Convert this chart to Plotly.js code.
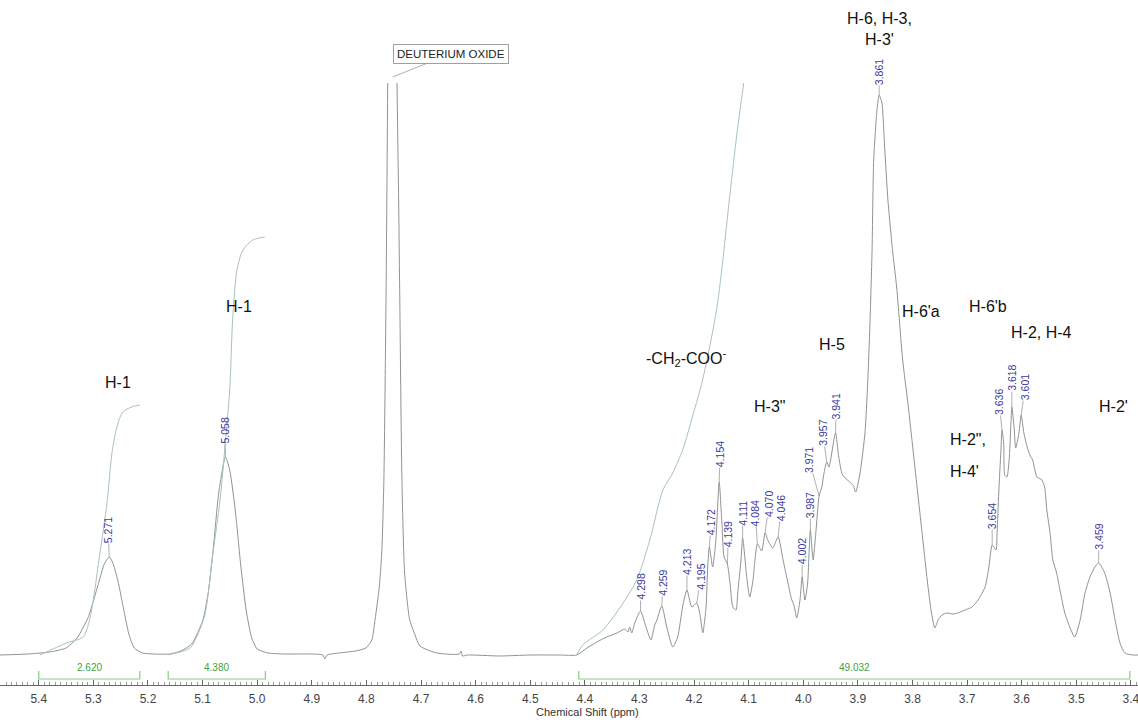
<!DOCTYPE html>
<html>
<head>
<meta charset="utf-8">
<script src="https://cdn.plot.ly/plotly-3.0.1.min.js"></script>
<style>html,body{margin:0;padding:0;background:#fff;}#chart{width:1138px;height:722px;}</style>
</head>
<body>
<div id="chart"></div>
<script>
// ---------- DATA ----------
// 1H NMR spectrum: chemical shift (ppm) and intensity (arbitrary units)
const ppm = [
  5.471, 5.42, 5.38, 5.35, 5.33, 5.31, 5.30, 5.29, 5.28, 5.271, 5.265, 5.255, 5.245, 5.235, 5.225, 5.21, 5.19,
  5.16, 5.14, 5.12, 5.10, 5.09, 5.08, 5.07, 5.058, 5.05, 5.04, 5.03, 5.02, 5.01, 5.00, 4.98, 4.95, 4.90,
  4.88, 4.876, 4.872, 4.85, 4.82, 4.801, 4.790, 4.785, 4.777, 4.772, 4.768, 4.764, 4.761, 4.752, 4.744,
  4.741, 4.739, 4.735, 4.730, 4.721, 4.711, 4.702, 4.671, 4.630, 4.627, 4.624, 4.615, 4.556, 4.50, 4.446,
  4.415, 4.396, 4.378, 4.360, 4.341, 4.327, 4.321, 4.318, 4.314, 4.308, 4.298, 4.288, 4.279, 4.272, 4.268,
  4.259, 4.250, 4.239, 4.230, 4.221, 4.213, 4.204, 4.195, 4.189, 4.184, 4.178, 4.175, 4.172, 4.166, 4.160,
  4.154, 4.149, 4.145, 4.139, 4.134, 4.129, 4.123, 4.120, 4.114, 4.111, 4.103, 4.098, 4.092, 4.089, 4.084,
  4.076, 4.070, 4.065, 4.056, 4.046, 4.037, 4.028, 4.021, 4.017, 4.012, 4.006, 4.002, 3.997, 3.992, 3.987,
  3.982, 3.977, 3.971, 3.966, 3.962, 3.957, 3.953, 3.941, 3.935, 3.928, 3.915, 3.909, 3.904, 3.896, 3.887,
  3.882, 3.878, 3.874, 3.871, 3.865, 3.861, 3.856, 3.851, 3.845, 3.836, 3.829, 3.823, 3.818, 3.808, 3.799,
  3.790, 3.781, 3.773, 3.766, 3.759, 3.753, 3.746, 3.737, 3.726, 3.717, 3.704, 3.691, 3.680, 3.667, 3.660,
  3.654, 3.647, 3.645, 3.642, 3.638, 3.636, 3.633, 3.631, 3.627, 3.623, 3.620, 3.618, 3.614, 3.611, 3.605,
  3.601, 3.596, 3.590, 3.585, 3.580, 3.572, 3.563, 3.558, 3.554, 3.548, 3.543, 3.536, 3.530, 3.521, 3.512,
  3.503, 3.493, 3.484, 3.475, 3.466, 3.459, 3.448, 3.438, 3.429, 3.420, 3.411, 3.396, 3.387
];
const intensity = [
  1, 2, 4, 8, 18, 38, 55, 74, 92, 99, 94, 75, 48, 22, 8, 3, 2,
  2, 5, 12, 35, 62, 110, 165, 199, 185, 145, 90, 45, 18, 7, 3, 2, 2,
  1, -3, 1, 3, 5, 8, 16, 33, 66, 102, 176, 363, 573, null, 573,
  456, 363, 178, 83, 37, 21, 10, 3, 2, 5, 0, 1, 0, 1, 1,
  1, 8, 14, 19, 23, 27, 24, 29, 23, 34, 45, 29, 16, 31, 36,
  50, 29, 9, 19, 49, 66, 49, 53, 41, 23, 49, 89, 109, 89, 116,
  174, 133, 99, 92, 72, 49, 46, 63, 96, 118, 76, 59, 76, 93, 112,
  105, 123, 116, 108, 119, 96, 73, 56, 51, 38, 56, 79, 56, 73, 126,
  96, 123, 160, 169, 183, 194, 189, 223, 199, 181, 174, 171, 164, 183, 223,
  273, 330, 406, 496, 546, 561, 553, 509, 456, 403, 369, 329, 296, 251, 206,
  161, 116, 76, 46, 28, 36, 41, 43, 42, 43, 46, 49, 56, 69, 89,
  111, 106, 123, 163, 206, 226, 213, 181, 179, 196, 229, 249, 229, 208, 223,
  241, 223, 209, 201, 196, 179, 176, 169, 146, 123, 96, 83, 66, 43, 29,
  19, 36, 63, 79, 89, 93, 83, 63, 36, 13, 3, 1, 1
];

// Integral curves (running integral, same intensity units)
const integral1Ppm = [5.398, 5.349, 5.319, 5.307, 5.288, 5.275, 5.266, 5.257, 5.246, 5.230, 5.215];
const integral1Val = [1, 13, 19, 36, 103, 153, 203, 229, 244, 249, 251];
const integral2Ppm = [5.164, 5.123, 5.111, 5.096, 5.081, 5.068, 5.058, 5.050, 5.045, 5.037, 5.026, 5.008, 4.986];
const integral2Val = [1, 8, 19, 41, 103, 156, 216, 269, 336, 386, 406, 416, 419];
const integral3Ppm = [4.415, 4.404, 4.367, 4.330, 4.305, 4.281, 4.257, 4.239, 4.221, 4.202, 4.184, 4.158, 4.134, 4.122, 4.109];
const integral3Val = [1, 11, 26, 53, 76, 116, 166, 183, 206, 241, 277, 349, 463, 520, 573];

// Integration ranges and their values
const integralStart = [5.400, 5.163, 4.411];
const integralEnd   = [5.215, 4.985, 3.402];
const integralLabel = ['2.620', '4.380', '49.032'];

// Picked peaks
const peakPpm = [5.271, 5.058, 4.298, 4.259, 4.213, 4.195, 4.172, 4.154, 4.139, 4.111, 4.084, 4.070, 4.046,
                 4.002, 3.987, 3.971, 3.957, 3.941, 3.861, 3.654, 3.636, 3.618, 3.601, 3.459];

// Assignment labels
const assignText = ['H-1', 'H-1', '-CH<sub>2</sub>-COO<sup>-</sup>', 'H-3"', 'H-5', 'H-6, H-3,<br>H-3\'',
                    'H-6\'a', 'H-6\'b', 'H-2, H-4', 'H-2",', 'H-4\'', 'H-2\''];
const solventText = 'DEUTERIUM OXIDE';
const solventPpm = 4.752;

// Axis ticks
const tickVals = [5.4, 5.3, 5.2, 5.1, 5.0, 4.9, 4.8, 4.7, 4.6, 4.5, 4.4, 4.3, 4.2, 4.1, 4.0, 3.9, 3.8, 3.7, 3.6, 3.5, 3.4];
const tickText = tickVals.map(v => v.toFixed(1));
const xTitle = 'Chemical Shift (ppm)';

// ---------- LAYOUT / STYLE ----------
const FONT = 'Liberation Sans, Arial, Helvetica, sans-serif';
const SPEC_COLOR = '#929292';
const INT_COLOR = '#a7c3ba';
const GREEN = '#86cc86';
const GREEN_TXT = '#3f9f3f';
const PEAK_TXT = '#3a3a9c';

// pixel offsets of peak labels relative to their peak top [ax, ay]
const peakLabelOffset = [
  [-1,-27],[-1,-26],[0,-24],[1,-23],[0,-28],[4,-26],[2,-25],[1,-28],[1,-30],[0,-25],[-2,-31],[4,-29],[3,-29],
  [0,-26],[0,-25],[-10,-36],[-4,-29],[1,-27],[0,-23],[0,-29],[-3,-28],[0,-29],[4,-28],[0,-26]
];
// assignment label positions: [ppm, paper-y, xanchor]
const assignPos = [
  [5.255, 0.502, 'center'], [5.033, 0.629, 'center'], [4.214, 0.543, 'center'], [4.061, 0.463, 'center'],
  [3.948, 0.566, 'center'], [3.860, 1.090, 'center'], [3.785, 0.620, 'center'], [3.662, 0.628, 'center'],
  [3.563, 0.586, 'center'], [3.735, 0.407, 'left'], [3.735, 0.354, 'left'], [3.432, 0.462, 'center']
];

const traces = [
  {x: ppm, y: intensity, type: 'scatter', mode: 'lines', connectgaps: false,
   line: {color: SPEC_COLOR, width: 1, shape: 'spline', smoothing: 0.6}, hoverinfo: 'skip'},
  {x: integral1Ppm, y: integral1Val, type: 'scatter', mode: 'lines',
   line: {color: INT_COLOR, width: 1, shape: 'spline', smoothing: 0.8}, hoverinfo: 'skip'},
  {x: integral2Ppm, y: integral2Val, type: 'scatter', mode: 'lines',
   line: {color: INT_COLOR, width: 1, shape: 'spline', smoothing: 0.8}, hoverinfo: 'skip'},
  {x: integral3Ppm, y: integral3Val, type: 'scatter', mode: 'lines',
   line: {color: INT_COLOR, width: 1, shape: 'spline', smoothing: 0.8}, hoverinfo: 'skip'}
];

const BR_Y = -23, BR_TOP = -15, BR_LABEL_Y = -11;
integralStart.forEach((a, i) => {
  const b = integralEnd[i];
  traces.push({x: [a, a, b, b], y: [BR_TOP, BR_Y, BR_Y, BR_TOP], type: 'scatter', mode: 'lines',
    line: {color: GREEN, width: 1.2}, hoverinfo: 'skip'});
});

const annotations = [];
integralStart.forEach((a, i) => {
  annotations.push({x: (a + integralEnd[i]) / 2, y: BR_LABEL_Y, xref: 'x', yref: 'y', text: integralLabel[i],
    showarrow: false, font: {family: FONT, size: 10, color: GREEN_TXT}, yanchor: 'middle'});
});

peakPpm.forEach((p, i) => {
  const idx = ppm.indexOf(p);
  annotations.push({x: p, y: intensity[idx], xref: 'x', yref: 'y', text: p.toFixed(3), textangle: -90,
    showarrow: true, arrowhead: 0, arrowwidth: 0.7, arrowcolor: '#8e8e8e', standoff: 0,
    ax: peakLabelOffset[i][0], ay: peakLabelOffset[i][1],
    font: {family: FONT, size: 10.5, color: PEAK_TXT}, borderpad: 0});
});

assignText.forEach((t, i) => {
  annotations.push({x: assignPos[i][0], y: assignPos[i][1], xref: 'x', yref: 'paper', text: t,
    showarrow: false, xanchor: assignPos[i][2], yanchor: 'middle',
    font: {family: FONT, size: 16, color: '#111'}});
});

// solvent callout: box with a pointer down to the clipped solvent peak
annotations.push({x: solventPpm, y: 1.01, xref: 'x', yref: 'paper', text: solventText,
  showarrow: true, arrowhead: 0, arrowwidth: 0.8, arrowcolor: '#9a9a9a', ax: 58, ay: -23, standoff: 0,
  bordercolor: '#a0a0a0', borderwidth: 1, borderpad: 3, bgcolor: '#fff',
  font: {family: FONT, size: 11.5, color: '#222'}});

annotations.push({x: 0.516, y: -0.045, xref: 'paper', yref: 'paper', text: xTitle, showarrow: false,
  yanchor: 'middle', font: {family: FONT, size: 11, color: '#333'}});

const layout = {
  width: 1138, height: 722,
  margin: {l: 0, r: 0, t: 83, b: 37, pad: 0},
  paper_bgcolor: '#fff', plot_bgcolor: '#fff',
  showlegend: false,
  xaxis: {
    range: [5.471, 3.387], tickmode: 'array', tickvals: tickVals, ticktext: tickText,
    ticks: 'inside', ticklen: 5, tickwidth: 1, tickcolor: '#666',
    minor: {tick0: 3.4, dtick: 0.01, ticks: 'inside', ticklen: 3, tickwidth: 1, tickcolor: '#999', showgrid: false},
    showline: true, linecolor: '#666', linewidth: 1, showgrid: false, zeroline: false,
    tickfont: {family: FONT, size: 12, color: '#444'}, ticklabelstandoff: 3, ticklabeloverflow: 'allow'
  },
  yaxis: {range: [-29, 573], visible: false, showgrid: false, zeroline: false},
  annotations: annotations
};

Plotly.newPlot('chart', traces, layout, {displayModeBar: false, staticPlot: true});
</script>
</body>
</html>
